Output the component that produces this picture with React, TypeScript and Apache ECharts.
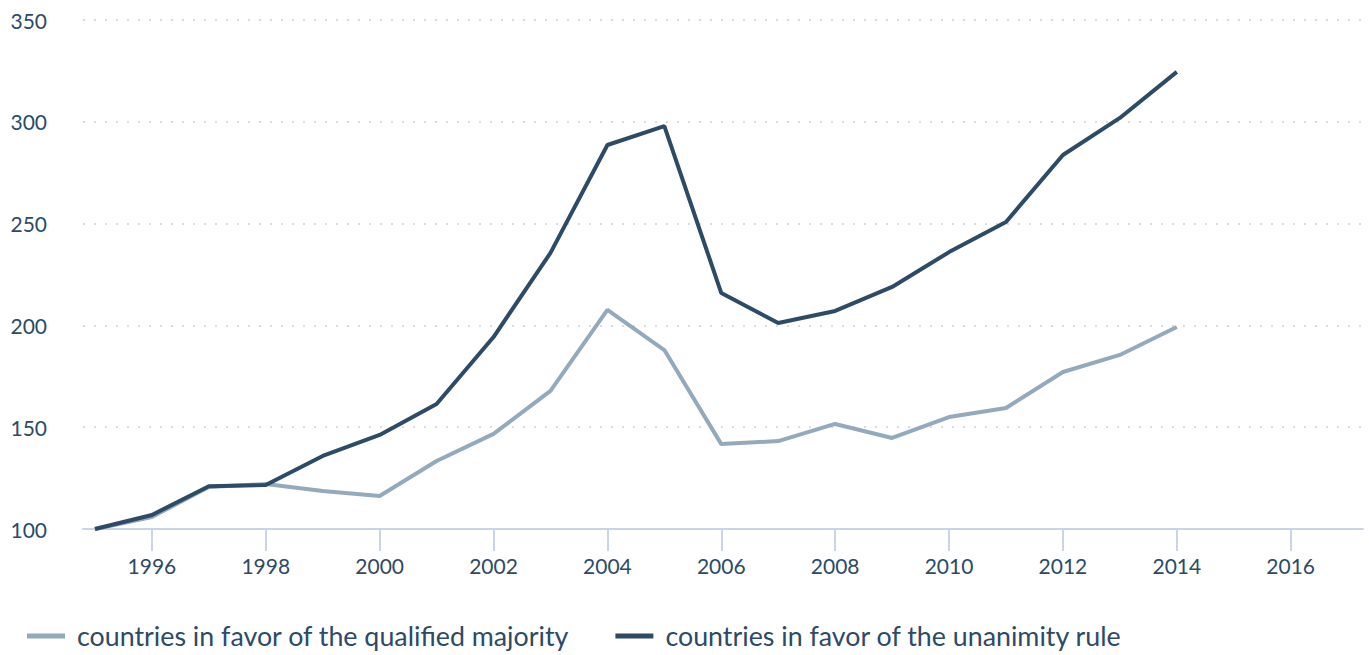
import React, { useEffect, useRef } from "react";
import * as echarts from "echarts";

const years = [1995, 1996, 1997, 1998, 1999, 2000, 2001, 2002, 2003, 2004, 2005, 2006, 2007, 2008, 2009, 2010, 2011, 2012, 2013, 2014];
const qualifiedMajority = [100, 105.9, 120.6, 122.1, 118.7, 116.2, 133.4, 146.7, 167.8, 207.6, 187.9, 141.7, 143.2, 151.6, 144.7, 155, 159.4, 177.1, 185.5, 199.2];
const unanimityRule = [100, 106.9, 121, 121.6, 135.9, 146.2, 161.4, 194.3, 235.6, 288.6, 297.9, 215.9, 201.2, 207.1, 218.9, 236, 250.8, 283.7, 301.9, 324.5];
const xTickYears = [1996, 1998, 2000, 2002, 2004, 2006, 2008, 2010, 2012, 2014, 2016];
const seriesNames = ["countries in favor of the qualified majority", "countries in favor of the unanimity rule"];

const LIGHT = "#95a9bd";
const DARK = "#2d4a66";
const TEXT = "#2d4a66";
const FONT = "Lato, 'Open Sans', sans-serif";

export default function App() {
  const ref = useRef<HTMLDivElement>(null);
  useEffect(() => {
    if (!ref.current) return;
    const chart = echarts.init(ref.current, null, { renderer: "svg" });
    chart.setOption({
      animation: false,
      textStyle: { fontFamily: FONT },
      grid: { left: 83, right: 6, top: 20, bottom: 126, containLabel: false },
      legend: {
        left: 27,
        top: 621,
        padding: 0,
        icon: "rect",
        itemWidth: 38,
        itemHeight: 5,
        itemGap: 46,
        textStyle: { fontSize: 26.8, lineHeight: 30, color: TEXT, fontFamily: FONT, padding: [0, 0, 0, 7] },
        data: seriesNames,
      },
      xAxis: {
        type: "value",
        min: 1994.79,
        max: 2017.27,
        axisLine: { show: true, lineStyle: { color: "#c9d4e6", width: 2 } },
        axisTick: { show: true, length: 22, lineStyle: { color: "#c9d4e6", width: 2 }, customValues: xTickYears },
        axisLabel: { color: TEXT, fontSize: 21, fontFamily: FONT, margin: 26, customValues: xTickYears, formatter: (v: number) => String(v) },
        splitLine: { show: false },
      },
      yAxis: {
        type: "value",
        min: 100,
        max: 350,
        interval: 50,
        axisLine: { show: false },
        axisTick: { show: false },
        axisLabel: { color: TEXT, fontSize: 21, fontFamily: FONT, margin: 36 },
        splitLine: { show: true, lineStyle: { color: "#d9dde2", type: [2, 9], width: 2 } },
      },
      series: [
        {
          name: seriesNames[0],
          type: "line",
          data: years.map((y, i) => [y, qualifiedMajority[i]]),
          symbol: "none",
          lineStyle: { color: LIGHT, width: 4 },
          itemStyle: { color: LIGHT },
          z: 2,
        },
        {
          name: seriesNames[1],
          type: "line",
          data: years.map((y, i) => [y, unanimityRule[i]]),
          symbol: "none",
          lineStyle: { color: DARK, width: 4 },
          itemStyle: { color: DARK },
          z: 3,
        },
      ],
    });
    return () => chart.dispose();
  }, []);
  return <div ref={ref} style={{ width: 1369, height: 655, position: "absolute", left: 0, top: 0 }} />;
}
